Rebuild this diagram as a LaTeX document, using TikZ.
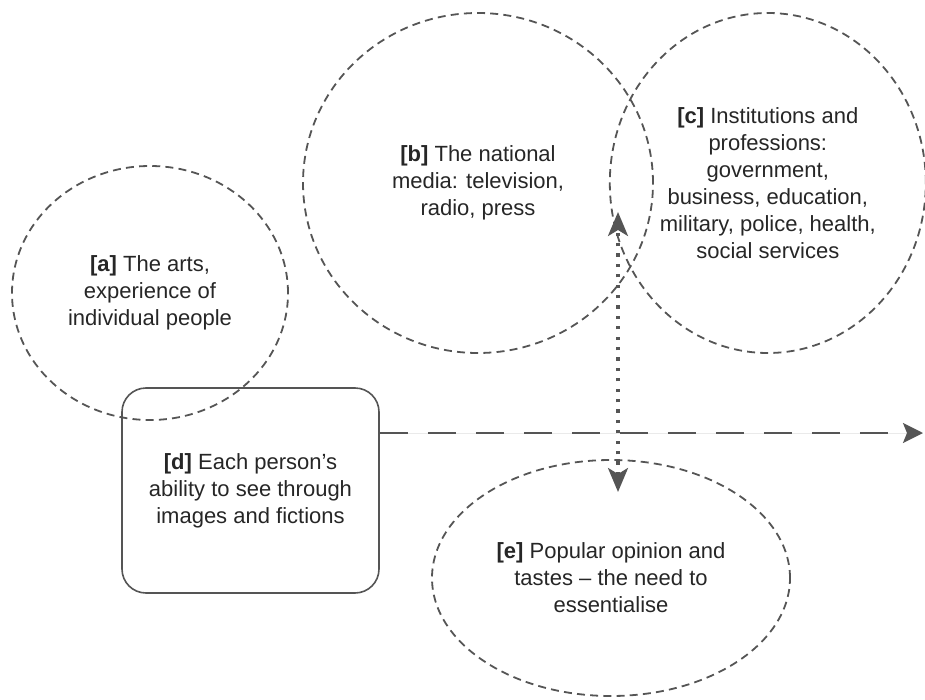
\documentclass[tikz,border=0pt]{standalone}
\usepackage{fontspec}
\setmainfont{Liberation Sans}
\usepackage{xcolor}
\usetikzlibrary{shapes.geometric, arrows.meta, positioning}
\definecolor{linegray}{HTML}{555555}
\definecolor{textgray}{HTML}{262626}

\begin{document}
\begin{tikzpicture}[
  x=0.5pt, y=-0.5pt,
  font=\fontsize{11}{13.5}\selectfont,
  area/.style ={ellipse, draw=linegray, line width=0.9pt, dash pattern=on 4pt off 2.6pt, align=center, inner sep=0pt, text=textgray},
  box/.style  ={rectangle, rounded corners=12pt, draw=linegray, line width=0.8pt, align=center, minimum width=128.5pt, minimum height=102.5pt, text=textgray},
  arr/.style  ={-{Stealth[length=10pt, width=10pt, inset=2pt]}, draw=linegray, fill=linegray, line width=1.3pt, dash pattern=on 14pt off 10pt},
  dots/.style ={{Stealth[length=12pt, width=10pt, inset=3pt]}-{Stealth[length=12pt, width=10pt, inset=3pt]}, draw=linegray, line width=1.6pt, dash pattern=on 1.6pt off 3.6pt}
  ]

  \useasboundingbox (0,0) rectangle (925,700);

  \node[area, minimum width=138pt, minimum height=127pt] (arts) at (150,293) {\textbf{[a]} The arts,\\experience of\\individual people};
  \node[area, minimum width=175pt, minimum height=170pt] (media) at (478,183) {\textbf{[b]} The national\\media: television,\\radio, press};
  \node[area, minimum width=158pt, minimum height=170pt, right=-22.5pt of media] (inst) {\textbf{[c]} Institutions and\\professions:\\government,\\business, education,\\military, police, health,\\social services};
  \node[box] (person) at (250.5,490.5) {\textbf{[d]} Each person’s\\ability to see through\\images and fictions};
  \node[area, minimum width=179pt, minimum height=118pt] (opinion) at (611,578) {\textbf{[e]} Popular opinion and\\tastes \textendash{} the need to\\essentialise};

  \coordinate (rim)   at (923,433);
  \coordinate (upper) at (618,212);
  \coordinate (lower) at (618,492);

  \draw[arr]  (person.east |- rim) -- (rim);
  \draw[dots] (lower) -- (upper);

\end{tikzpicture}
\end{document}
